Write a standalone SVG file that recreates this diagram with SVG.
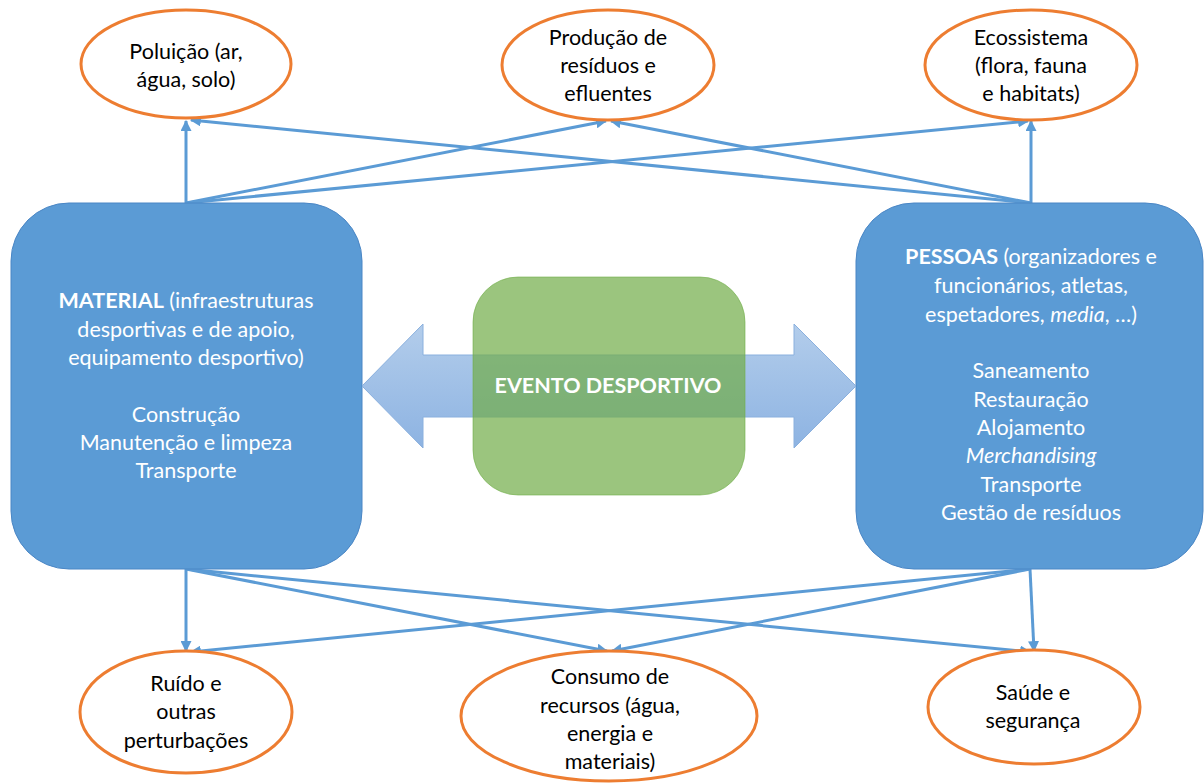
<svg xmlns="http://www.w3.org/2000/svg" width="1204" height="783" viewBox="0 0 1204 783">
<style>
.ell{fill:#fff;stroke:#ED7D31;stroke-width:3}
.box{fill:#5B9BD5;stroke:#4A86C5;stroke-width:1}
.con{stroke:#5B9BD5;stroke-width:3;fill:none;marker-end:url(#ah)}
.t{font-family:Lato,"Liberation Sans",sans-serif;font-size:21.5px;text-anchor:middle;fill:#000}
.w{fill:#fff}
.b{font-weight:bold}
.i{font-style:italic}
</style>
<defs>
<marker id="ah" viewBox="0 0 10 10" refX="9" refY="5" markerWidth="11" markerHeight="11" markerUnits="userSpaceOnUse" orient="auto">
<path d="M0,0 L10,5 L0,10 z" fill="#5B9BD5"/>
</marker>
<linearGradient id="ag" x1="0" y1="0" x2="0" y2="1">
<stop offset="0" stop-color="#B3CDEB"/>
<stop offset="1" stop-color="#8DB3E2"/>
</linearGradient>
</defs>
<rect width="1204" height="783" fill="#fff"/>
<g id="connectors">
<line class="con" x1="186" y1="203" x2="186" y2="121"/>
<line class="con" x1="186" y1="203" x2="606" y2="121"/>
<line class="con" x1="186" y1="203" x2="1028" y2="121"/>
<line class="con" x1="1031" y1="203" x2="1031" y2="121"/>
<line class="con" x1="1031" y1="203" x2="611" y2="121"/>
<line class="con" x1="1031" y1="203" x2="191" y2="120"/>
<line class="con" x1="186" y1="569" x2="186" y2="651"/>
<line class="con" x1="186" y1="569" x2="607" y2="651"/>
<line class="con" x1="186" y1="569" x2="1030" y2="652"/>
<line class="con" x1="1030" y1="569" x2="1034" y2="651"/>
<line class="con" x1="1030" y1="569" x2="612" y2="651"/>
<line class="con" x1="1030" y1="569" x2="191" y2="652"/>
</g>
<g id="n-poluicao">
<ellipse class="ell" cx="186" cy="64" rx="105" ry="54"/>
<text class="t" x="186" y="59">Poluição (ar,</text>
<text class="t" x="186" y="87">água, solo)</text>
</g>
<g id="n-producao">
<ellipse class="ell" cx="608" cy="65" rx="106" ry="55"/>
<text class="t" x="608" y="45">Produção de</text>
<text class="t" x="608" y="73">resíduos e</text>
<text class="t" x="608" y="101">efluentes</text>
</g>
<g id="n-ecossistema">
<ellipse class="ell" cx="1031" cy="65" rx="106" ry="55"/>
<text class="t" x="1031" y="45">Ecossistema</text>
<text class="t" x="1031" y="73">(flora, fauna</text>
<text class="t" x="1031" y="101">e habitats)</text>
</g>
<g id="n-material">
<rect class="box" x="11" y="203" width="351" height="366" rx="58"/>
<text class="t w" x="186" y="308"><tspan class="b">MATERIAL</tspan> (infraestruturas</text>
<text class="t w" x="186" y="337">desportivas e de apoio,</text>
<text class="t w" x="186" y="365">equipamento desportivo)</text>
<text class="t w" x="186" y="422">Construção</text>
<text class="t w" x="186" y="450">Manutenção e limpeza</text>
<text class="t w" x="186" y="478">Transporte</text>
</g>
<g id="n-pessoas">
<rect class="box" x="856" y="203" width="347" height="366" rx="58"/>
<text class="t w" x="1031" y="264"><tspan class="b">PESSOAS</tspan> (organizadores e</text>
<text class="t w" x="1031" y="293">funcionários, atletas,</text>
<text class="t w" x="1031" y="322">espetadores, <tspan class="i">media</tspan>, …)</text>
<text class="t w" x="1031" y="378">Saneamento</text>
<text class="t w" x="1031" y="407">Restauração</text>
<text class="t w" x="1031" y="435">Alojamento</text>
<text class="t w i" x="1031" y="463">Merchandising</text>
<text class="t w" x="1031" y="492">Transporte</text>
<text class="t w" x="1031" y="520">Gestão de resíduos</text>
</g>
<g id="n-double-arrow">
<polygon points="362,386 423,324 423,355 794,355 794,324 856,386 794,448 794,417 423,417 423,448" fill="url(#ag)" stroke="#8AB0DE" stroke-width="1"/>
</g>
<g id="n-evento">
<rect x="473" y="277" width="272" height="218" rx="45" fill="#70AD47" fill-opacity="0.7" stroke="#70AD47" stroke-opacity="0.6" stroke-width="1"/>
<text class="t w b" x="608" y="393">EVENTO DESPORTIVO</text>
</g>
<g id="n-ruido">
<ellipse class="ell" cx="186" cy="712" rx="106" ry="61"/>
<text class="t" x="186" y="691">Ruído e</text>
<text class="t" x="186" y="719">outras</text>
<text class="t" x="186" y="748">perturbações</text>
</g>
<g id="n-consumo">
<ellipse class="ell" cx="609" cy="716" rx="148" ry="65"/>
<text class="t" x="610" y="684">Consumo de</text>
<text class="t" x="610" y="713">recursos (água,</text>
<text class="t" x="610" y="741">energia e</text>
<text class="t" x="610" y="769">materiais)</text>
</g>
<g id="n-saude">
<ellipse class="ell" cx="1034" cy="707" rx="106" ry="57"/>
<text class="t" x="1033" y="700">Saúde e</text>
<text class="t" x="1033" y="728">segurança</text>
</g>
</svg>
